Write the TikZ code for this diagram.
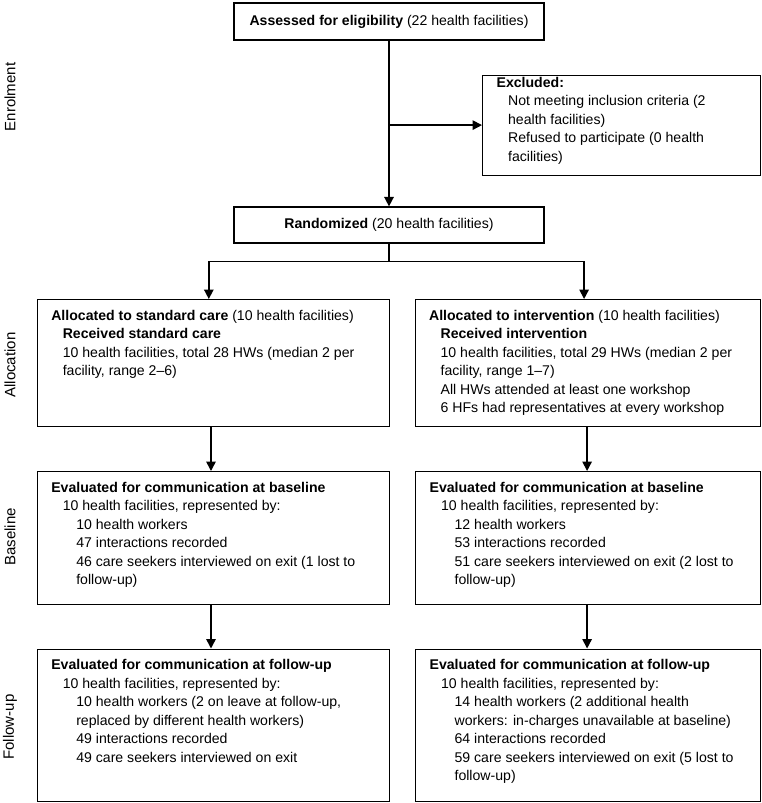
\documentclass[tikz,border=0pt]{standalone}
\usepackage{fontspec}
\setmainfont{Liberation Sans}
\usetikzlibrary{arrows.meta}

% indents inside the boxes
\newcommand{\lvA}{\hspace*{11.5pt}}
\newcommand{\lvB}{\hspace*{25pt}}
% width, height, top gap, text
\newcommand{\boxtext}[4]{\parbox[c][#2][t]{#1}{\raggedright\vspace*{#3}#4}}

\begin{document}
\begin{tikzpicture}[x=1pt,y=-1pt,font=\fontsize{14.1}{18.5}\selectfont,
  stage/.style={draw,line width=1.2pt,inner xsep=14pt,inner ysep=0pt,anchor=north west},
  headbox/.style={draw,line width=1.2pt,minimum width=310pt,minimum height=37pt,inner sep=0pt},
  arr/.style={line width=1.5pt,-{Triangle[length=9.5pt,width=9.5pt]}},
  link/.style={line width=1.5pt},
  phase/.style={rotate=90,font=\fontsize{15}{17}\selectfont}]
\useasboundingbox (0,0) rectangle (761,803);

% phase labels
\node[phase] (enrol) at (10,97) {Enrolment};
\node[phase] (alloc) at (10,365) {Allocation};
\node[phase] (base) at (10,537) {Baseline};
\node[phase] (fu) at (10,727) {Follow-up};

% enrolment
\node[headbox] (assess) at (389,21.5) {\textbf{Assessed for eligibility} (22 health facilities)};
\node[stage] (excl) at (482,74.5) {\boxtext{250pt}{100pt}{2pt}{\textbf{Excluded:}\\
  \lvA Not meeting inclusion criteria (2\\
  \lvA health facilities)\\
  \lvA Refused to participate (0 health\\
  \lvA facilities)}};
\node[headbox,minimum height=36pt] (rand) at (389,225) {\textbf{Randomized} (20 health facilities)};

% allocation
\node[stage] (allocL) at (36.7,299) {\boxtext{324pt}{127pt}{10.5pt}{\textbf{Allocated to standard care} (10 health facilities)\\
  \lvA\textbf{Received standard care}\\
  \lvA 10 health facilities, total 28 HWs (median 2 per\\
  \lvA facility, range 2--6)}};
\node[stage] (allocR) at (414.5,299) {\boxtext{317pt}{127pt}{10.5pt}{\textbf{Allocated to intervention} (10 health facilities)\\
  \lvA\textbf{Received intervention}\\
  \lvA 10 health facilities, total 29 HWs (median 2 per\\
  \lvA facility, range 1--7)\\
  \lvA All HWs attended at least one workshop\\
  \lvA 6 HFs had representatives at every workshop}};

% baseline
\node[stage] (baseL) at (36.7,471) {\boxtext{324pt}{133pt}{10.5pt}{\textbf{Evaluated for communication at baseline}\\
  \lvA 10 health facilities, represented by:\\
  \lvB 10 health workers\\
  \lvB 47 interactions recorded\\
  \lvB 46 care seekers interviewed on exit (1 lost to\\
  \lvB follow-up)}};
\node[stage] (baseR) at (415,471) {\boxtext{316.5pt}{133pt}{10.5pt}{\textbf{Evaluated for communication at baseline}\\
  \lvA 10 health facilities, represented by:\\
  \lvB 12 health workers\\
  \lvB 53 interactions recorded\\
  \lvB 51 care seekers interviewed on exit (2 lost to\\
  \lvB follow-up)}};

% follow-up
\node[stage] (fuL) at (36.7,648.5) {\boxtext{324pt}{152.5pt}{10.5pt}{\textbf{Evaluated for communication at follow-up}\\
  \lvA 10 health facilities, represented by:\\
  \lvB 10 health workers (2 on leave at follow-up,\\
  \lvB replaced by different health workers)\\
  \lvB 49 interactions recorded\\
  \lvB 49 care seekers interviewed on exit}};
\node[stage] (fuR) at (415,648.5) {\boxtext{316.5pt}{152.5pt}{10.5pt}{\textbf{Evaluated for communication at follow-up}\\
  \lvA 10 health facilities, represented by:\\
  \lvB 14 health workers (2 additional health\\
  \lvB workers: in-charges unavailable at baseline)\\
  \lvB 64 interactions recorded\\
  \lvB 59 care seekers interviewed on exit (5 lost to\\
  \lvB follow-up)}};

% connectors
\draw[arr] (assess) -- (rand);
\draw[arr] (assess.south |- excl.west) -- (excl.west);
\coordinate (split) at (389,261.5);
\draw[link] (rand) -- (split);
\draw[arr] (split) -| ([xshift=-4.5pt]allocL.north);
\draw[arr] (split) -| ([xshift=-3.5pt]allocR.north);
\draw[arr] ([xshift=-2.3pt]allocL.south) -- ([xshift=-2.3pt]baseL.north);
\draw[arr] ([xshift=-0.5pt]allocR.south) -- ([xshift=-0.5pt]allocR.south |- baseR.north);
\draw[arr] ([xshift=-2.3pt]baseL.south) -- ([xshift=-2.3pt]fuL.north);
\draw[arr] ([xshift=-0.75pt]baseR.south) -- ([xshift=-0.75pt]baseR.south |- fuR.north);
\end{tikzpicture}
\end{document}
